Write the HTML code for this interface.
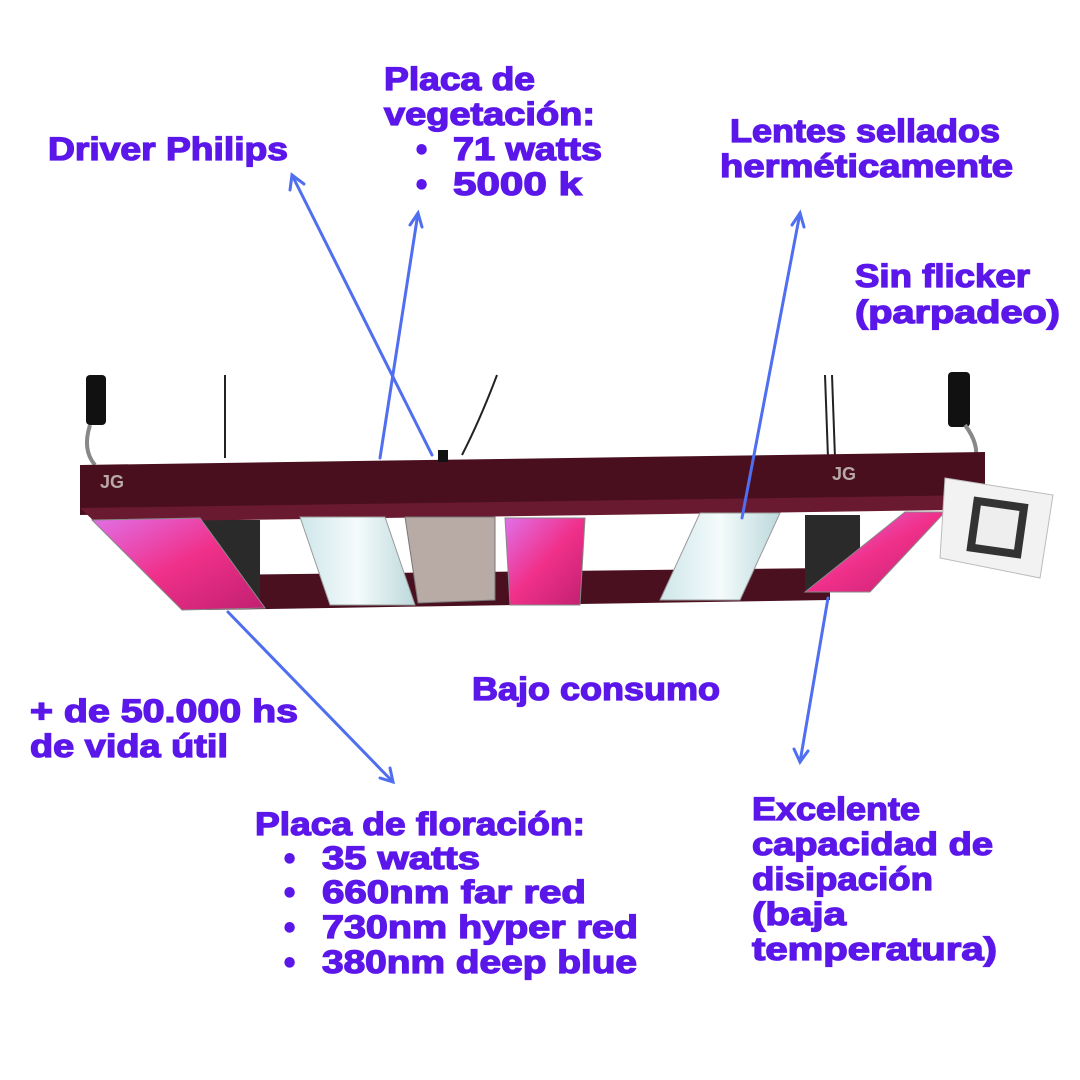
<!DOCTYPE html>
<html><head><meta charset="utf-8"><style>
html,body{margin:0;padding:0;background:#fff;}
svg{display:block;}
text{font-family:"Liberation Sans",sans-serif;font-weight:bold;fill:#5b17ea;stroke:#5b17ea;stroke-width:1.3px;font-size:32px;}
</style></head><body>
<svg width="1080" height="1080" viewBox="0 0 1080 1080" xmlns="http://www.w3.org/2000/svg">
<defs>
<linearGradient id="pur" x1="0" y1="0" x2="1" y2="1">
<stop offset="0" stop-color="#e070e8"/><stop offset="0.5" stop-color="#f0308a"/><stop offset="1" stop-color="#c02070"/></linearGradient>
<linearGradient id="wht" x1="0" y1="0" x2="1" y2="0">
<stop offset="0" stop-color="#cfe6ea"/><stop offset="0.5" stop-color="#f4fbfb"/><stop offset="1" stop-color="#bcd8dc"/></linearGradient>
</defs>
<g stroke="#222" stroke-width="2" fill="none">
<line x1="225" y1="375" x2="225" y2="458"/><line x1="825" y1="375" x2="828" y2="458"/><line x1="832" y1="375" x2="835" y2="458"/>
<path d="M497 375 Q480 420 462 455"/>
</g>
<rect x="86" y="375" width="20" height="50" fill="#111" rx="4"/>
<rect x="948" y="372" width="22" height="55" fill="#111" rx="4"/>
<path d="M90 425 Q82 450 95 465" stroke="#888" stroke-width="4" fill="none"/>
<path d="M965 425 Q980 445 975 462" stroke="#888" stroke-width="4" fill="none"/>
<polygon points="205,575 830,568 830,600 205,610" fill="#4a1020"/>
<rect x="200" y="520" width="60" height="80" fill="#2a2a2a"/>
<rect x="805" y="515" width="55" height="75" fill="#2a2a2a"/>
<polygon points="80,465 985,452 985,500 80,515" fill="#4a0f1f"/>
<polygon points="80,508 985,495 955,510 95,522" fill="#6a1a30"/>
<text x="100" y="488" style="font-size:18px;fill:#b8a8a8;stroke:none">JG</text>
<text x="832" y="480" style="font-size:18px;fill:#b8a8a8;stroke:none">JG</text>
<rect x="438" y="450" width="10" height="12" fill="#111"/>
<polygon points="92,520 200,518 265,608 182,610" fill="url(#pur)" stroke="#888"/>
<polygon points="300,517 385,517 415,605 330,605" fill="url(#wht)" stroke="#999"/>
<polygon points="405,517 495,517 495,600 418,603" fill="#b8aaa4" stroke="#777"/>
<polygon points="505,518 585,518 580,605 510,605" fill="url(#pur)" stroke="#888"/>
<polygon points="700,513 780,513 740,600 660,600" fill="url(#wht)" stroke="#999"/>
<polygon points="905,512 945,512 870,592 805,592" fill="url(#pur)" stroke="#888"/>
<polygon points="945,478 1053,495 1040,578 940,558" fill="#f2f2f2" stroke="#bbb"/>
<rect x="970" y="500" width="55" height="55" fill="#333" transform="rotate(8 997 527)"/>
<rect x="978" y="508" width="39" height="39" fill="#eee" transform="rotate(8 997 527)"/>
<g stroke="#4f6ef0" stroke-width="3" fill="none" stroke-linecap="round">
<line x1="432" y1="455" x2="292" y2="175"/><polyline points="290,190 292,175 304,184"/>
<line x1="380" y1="458" x2="418" y2="213"/><polyline points="410,225 418,213 422,227"/>
<line x1="742" y1="518" x2="800" y2="213"/><polyline points="792,225 800,213 804,227"/>
<line x1="228" y1="612" x2="393" y2="782"/><polyline points="380,778 393,782 390,768"/>
<line x1="828" y1="598" x2="800" y2="762"/><polyline points="794,749 800,762 808,751"/>
</g>
<text x="48" y="160" textLength="240" lengthAdjust="spacingAndGlyphs">Driver Philips</text>
<text x="384" y="90" textLength="151" lengthAdjust="spacingAndGlyphs">Placa de</text>
<text x="384" y="125" textLength="211" lengthAdjust="spacingAndGlyphs">vegetación:</text>
<text x="416" y="160">•</text><text x="453" y="160" textLength="149" lengthAdjust="spacingAndGlyphs">71 watts</text>
<text x="416" y="195">•</text><text x="453" y="195" textLength="129" lengthAdjust="spacingAndGlyphs">5000 k</text>
<text x="730" y="142" textLength="270" lengthAdjust="spacingAndGlyphs">Lentes sellados</text>
<text x="720" y="177" textLength="293" lengthAdjust="spacingAndGlyphs">herméticamente</text>
<text x="855" y="287" textLength="175" lengthAdjust="spacingAndGlyphs">Sin flicker</text>
<text x="855" y="323" textLength="205" lengthAdjust="spacingAndGlyphs">(parpadeo)</text>
<text x="472" y="700" textLength="248" lengthAdjust="spacingAndGlyphs">Bajo consumo</text>
<text x="30" y="722" textLength="268" lengthAdjust="spacingAndGlyphs">+ de 50.000 hs</text>
<text x="30" y="757" textLength="198" lengthAdjust="spacingAndGlyphs">de vida útil</text>
<text x="255" y="835" textLength="330" lengthAdjust="spacingAndGlyphs">Placa de floración:</text>
<text x="284" y="869">•</text><text x="322" y="869" textLength="158" lengthAdjust="spacingAndGlyphs">35 watts</text>
<text x="284" y="903">•</text><text x="322" y="903" textLength="264" lengthAdjust="spacingAndGlyphs">660nm far red</text>
<text x="284" y="938">•</text><text x="322" y="938" textLength="316" lengthAdjust="spacingAndGlyphs">730nm hyper red</text>
<text x="284" y="973">•</text><text x="322" y="973" textLength="315" lengthAdjust="spacingAndGlyphs">380nm deep blue</text>
<text x="752" y="820" textLength="168" lengthAdjust="spacingAndGlyphs">Excelente</text>
<text x="752" y="855" textLength="241" lengthAdjust="spacingAndGlyphs">capacidad de</text>
<text x="752" y="890" textLength="181" lengthAdjust="spacingAndGlyphs">disipación</text>
<text x="752" y="925" textLength="94" lengthAdjust="spacingAndGlyphs">(baja</text>
<text x="752" y="960" textLength="245" lengthAdjust="spacingAndGlyphs">temperatura)</text>
</svg>
</body></html>
